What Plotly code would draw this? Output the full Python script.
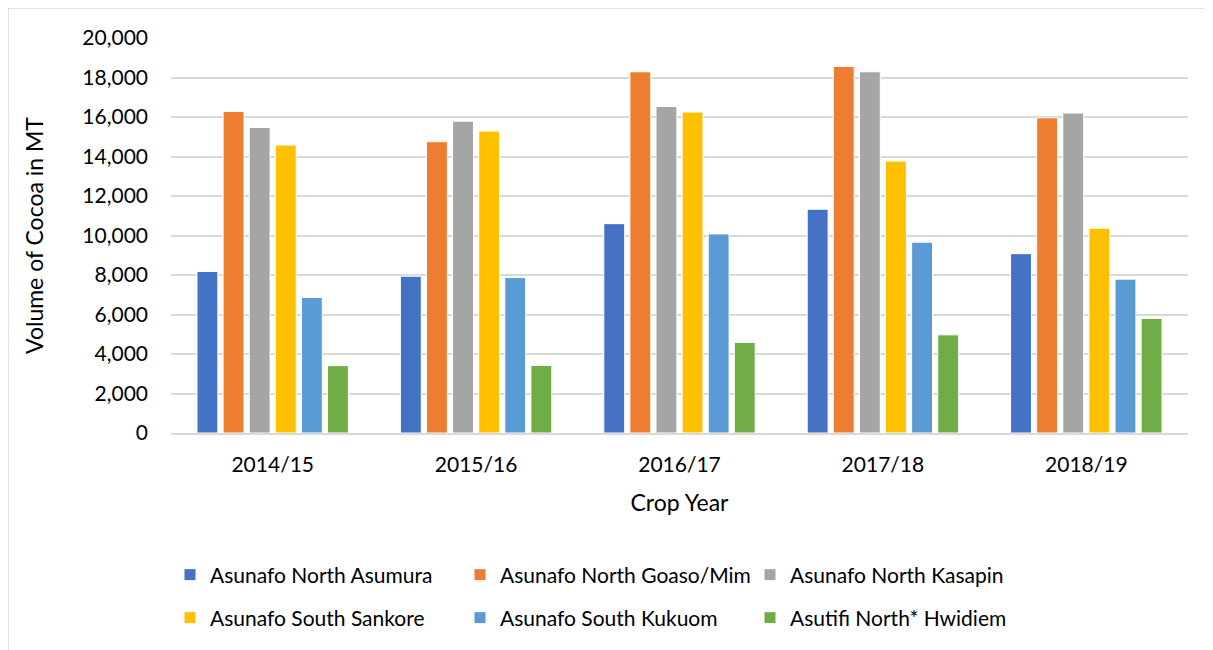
import plotly.graph_objects as go

years = ["2014/15", "2015/16", "2016/17", "2017/18", "2018/19"]
series_names = [
    "Asunafo North Asumura",
    "Asunafo North Goaso/Mim",
    "Asunafo North Kasapin",
    "Asunafo South Sankore",
    "Asunafo South Kukuom",
    "Asutifi North* Hwidiem",
]
asumura = [8180, 7940, 10600, 11330, 9080]
goaso_mim = [16280, 14750, 18290, 18560, 15960]
kasapin = [15470, 15790, 16530, 18290, 16200]
sankore = [14580, 15290, 16250, 13770, 10370]
kukuom = [6860, 7870, 10080, 9660, 7790]
hwidiem = [3410, 3420, 4590, 4970, 5800]
y_ticks = [0, 2000, 4000, 6000, 8000, 10000, 12000, 14000, 16000, 18000, 20000]

values = [asumura, goaso_mim, kasapin, sankore, kukuom, hwidiem]
colors = ["#4472C4", "#ED7D31", "#A5A5A5", "#FFC000", "#5B9BD5", "#70AD47"]

FONT = "Lato"
fig = go.Figure()
for i, (name, vals, col) in enumerate(zip(series_names, values, colors)):
    fig.add_trace(go.Bar(
        x=years, y=vals, name=name,
        marker=dict(color=col, line=dict(color="white", width=1)),
        legend="legend" if i < 3 else "legend2",
    ))

OFF = 8  # page body margin
W, H = 1213, 650
L, R, T, B = 163, 33, 30, 225
pw, ph = W - L - R, H - T - B

def px_x(p):
    return (p - OFF - L) / pw

def px_y(p):
    return (H - B - (p - OFF)) / ph

legend_common = dict(
    orientation="h", xanchor="left", yanchor="middle",
    font=dict(family=FONT, size=21, color="#000000"),
    entrywidth=245, itemwidth=30, bgcolor="rgba(0,0,0,0)",
)

fig.update_layout(
    width=W, height=H,
    margin=dict(l=L, r=R, t=T, b=B),
    paper_bgcolor="white", plot_bgcolor="white",
    barmode="group", bargap=0.23, bargroupgap=0.2,
    font=dict(family=FONT, color="#000000"),
    xaxis=dict(
        showgrid=False, showline=True, linecolor="#D9D9D9", linewidth=1.5,
        tickfont=dict(family=FONT, size=21, color="#000000"),
        ticklabelstandoff=12,
        title=dict(text="Crop Year", font=dict(family=FONT, size=23, color="#000000"), standoff=20),
    ),
    yaxis=dict(
        range=[0, 20000], tickvals=y_ticks, tickformat=",",
        showgrid=True, gridcolor="#D9D9D9", gridwidth=1.5,
        zeroline=False, showline=False,
        tickfont=dict(family=FONT, size=21, color="#000000"),
        ticklabelstandoff=22,
        title=dict(text="Volume of Cocoa in MT", font=dict(family=FONT, size=23, color="#000000"), standoff=32),
    ),
    legend=dict(x=px_x(170), y=px_y(575), **legend_common),
    legend2=dict(x=px_x(170), y=px_y(618), **legend_common),
    shapes=[dict(
        type="rect", xref="paper", yref="paper",
        x0=px_x(8), x1=px_x(1230), y0=px_y(700), y1=px_y(8),
        line=dict(color="#D9D9D9", width=1.5), fillcolor="rgba(0,0,0,0)", layer="below",
    )],
)

fig.write_html("out.html")
